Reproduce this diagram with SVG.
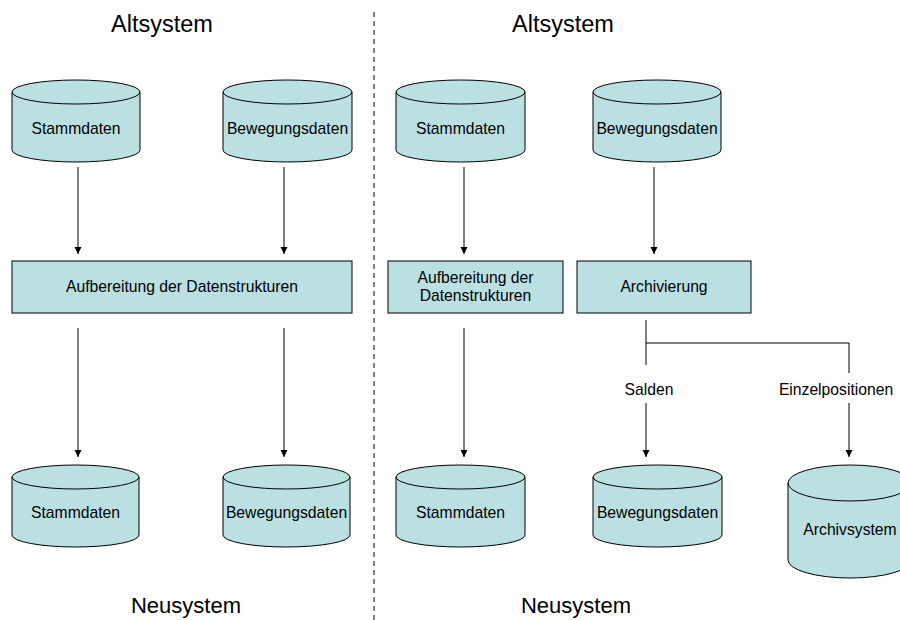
<svg xmlns="http://www.w3.org/2000/svg" width="900" height="620" viewBox="0 0 900 620">
<style>
.n{fill:#BBE0E2;stroke:#000;stroke-width:1}
.t{font-family:"Liberation Sans",Arial,sans-serif;font-size:15.7px;fill:#000;text-anchor:middle}
.h{font-family:"Liberation Sans",Arial,sans-serif;font-size:23.5px;fill:#000;text-anchor:middle}
.h2{font-family:"Liberation Sans",Arial,sans-serif;font-size:22px;fill:#000;text-anchor:middle}
.c{stroke:#000;stroke-width:1;fill:none}
</style>
<defs>
<marker id="a" markerUnits="userSpaceOnUse" markerWidth="8" markerHeight="10" refX="7" refY="4" orient="auto" viewBox="0 0 8 8">
<path d="M0,0.5 L7,4 L0,7.5 Z" fill="#000"/>
</marker>
</defs>
<rect width="900" height="620" fill="#fff"/>
<line x1="374" y1="12" x2="374" y2="620" stroke="#000" stroke-width="1" stroke-dasharray="5,4"/>
<text class="h" x="162" y="32">Altsystem</text>
<text class="h" x="563" y="32">Altsystem</text>
<text class="h2" x="186" y="613">Neusystem</text>
<text class="h2" x="576" y="613">Neusystem</text>

<g id="connectors">
<line class="c" x1="78" y1="167" x2="78" y2="254" marker-end="url(#a)"/>
<line class="c" x1="284" y1="167" x2="284" y2="254" marker-end="url(#a)"/>
<line class="c" x1="78" y1="328" x2="78" y2="457" marker-end="url(#a)"/>
<line class="c" x1="284" y1="328" x2="284" y2="457" marker-end="url(#a)"/>
<line class="c" x1="464" y1="167" x2="464" y2="254" marker-end="url(#a)"/>
<line class="c" x1="654" y1="167" x2="654" y2="254" marker-end="url(#a)"/>
<line class="c" x1="464" y1="328" x2="464" y2="457" marker-end="url(#a)"/>
<polyline class="c" points="646,320 646,365"/>
<polyline class="c" points="646,343 849,343 849,373"/>
<line class="c" x1="646" y1="403" x2="646" y2="457" marker-end="url(#a)"/>
<line class="c" x1="849" y1="403" x2="849" y2="457" marker-end="url(#a)"/>
<text class="t" x="649" y="395">Salden</text>
<text class="t" x="836" y="395">Einzelpositionen</text>
</g>

<g id="alt-stamm-l">
<path class="n" d="M12,92 A64,12 0 0 1 140,92 V150 A64,12 0 0 1 12,150 Z"/>
<path class="c" d="M12,92 A64,12 0 0 0 140,92"/>
<text class="t" x="76" y="134">Stammdaten</text>
</g>
<g id="alt-beweg-l">
<path class="n" d="M223,92 A64.5,12 0 0 1 352,92 V150 A64.5,12 0 0 1 223,150 Z"/>
<path class="c" d="M223,92 A64.5,12 0 0 0 352,92"/>
<text class="t" x="287.5" y="134">Bewegungsdaten</text>
</g>
<g id="aufb-l">
<rect class="n" x="12" y="261" width="340" height="52"/>
<text class="t" x="182" y="292">Aufbereitung der Datenstrukturen</text>
</g>
<g id="neu-stamm-l">
<path class="n" d="M12,477 A63.5,12 0 0 1 139,477 V535 A63.5,12 0 0 1 12,535 Z"/>
<path class="c" d="M12,477 A63.5,12 0 0 0 139,477"/>
<text class="t" x="75.5" y="518">Stammdaten</text>
</g>
<g id="neu-beweg-l">
<path class="n" d="M223,477 A63.5,12 0 0 1 350,477 V535 A63.5,12 0 0 1 223,535 Z"/>
<path class="c" d="M223,477 A63.5,12 0 0 0 350,477"/>
<text class="t" x="286.5" y="518">Bewegungsdaten</text>
</g>

<g id="alt-stamm-r">
<path class="n" d="M396,92 A64.5,12 0 0 1 525,92 V150 A64.5,12 0 0 1 396,150 Z"/>
<path class="c" d="M396,92 A64.5,12 0 0 0 525,92"/>
<text class="t" x="460.5" y="134">Stammdaten</text>
</g>
<g id="alt-beweg-r">
<path class="n" d="M593,92 A64,12 0 0 1 721,92 V150 A64,12 0 0 1 593,150 Z"/>
<path class="c" d="M593,92 A64,12 0 0 0 721,92"/>
<text class="t" x="657" y="134">Bewegungsdaten</text>
</g>
<g id="aufb-r">
<rect class="n" x="388" y="261" width="175" height="52"/>
<text class="t" x="475.5" y="283">Aufbereitung der</text>
<text class="t" x="475.5" y="301">Datenstrukturen</text>
</g>
<g id="archivierung">
<rect class="n" x="577" y="261" width="174" height="52"/>
<text class="t" x="664" y="292">Archivierung</text>
</g>
<g id="neu-stamm-r">
<path class="n" d="M396,477 A64.5,12 0 0 1 525,477 V535 A64.5,12 0 0 1 396,535 Z"/>
<path class="c" d="M396,477 A64.5,12 0 0 0 525,477"/>
<text class="t" x="460.5" y="518">Stammdaten</text>
</g>
<g id="neu-beweg-r">
<path class="n" d="M593,477 A64.5,12 0 0 1 722,477 V535 A64.5,12 0 0 1 593,535 Z"/>
<path class="c" d="M593,477 A64.5,12 0 0 0 722,477"/>
<text class="t" x="657.5" y="518">Bewegungsdaten</text>
</g>
<g id="archivsystem">
<path class="n" d="M788,483 A62,18 0 0 1 912,483 V560 A62,18 0 0 1 788,560 Z"/>
<path class="c" d="M788,483 A62,18 0 0 0 912,483"/>
<text class="t" x="850" y="535">Archivsystem</text>
</g>
</svg>
